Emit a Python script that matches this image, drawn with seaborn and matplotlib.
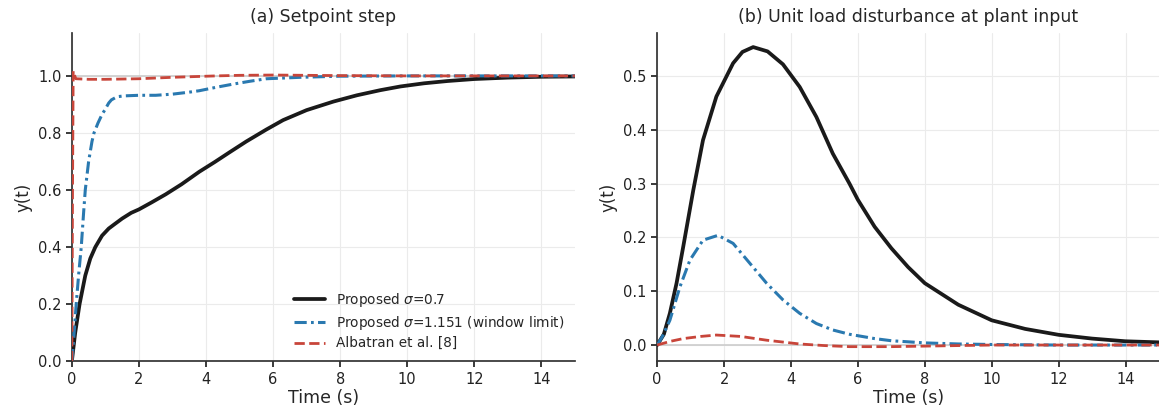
import matplotlib
matplotlib.use("Agg")
import matplotlib.pyplot as plt
import seaborn as sns
import numpy as np

# (a) setpoint step
t_a_prop07 = [0, 0.1, 0.23, 0.4, 0.55, 0.7, 0.9, 1.1, 1.27, 1.5, 1.77, 2.0, 2.37, 2.8, 3.27,
              3.8, 4.26, 4.7, 5.2, 5.8, 6.3, 7.0, 7.8, 8.5, 9.2, 9.8, 10.5, 11.2, 12, 13, 14, 15]
y_a_prop07 = [0, 0.1, 0.2, 0.3, 0.36, 0.4, 0.44, 0.465, 0.48, 0.5, 0.52, 0.532, 0.556, 0.585,
              0.62, 0.664, 0.698, 0.732, 0.77, 0.812, 0.845, 0.88, 0.91, 0.932, 0.95, 0.963,
              0.974, 0.982, 0.989, 0.994, 0.997, 0.998]

t_a_prop1151 = [0, 0.05, 0.13, 0.2, 0.28, 0.35, 0.4, 0.5, 0.6, 0.66, 0.78, 0.9, 0.98, 1.1,
                1.18, 1.35, 1.57, 2.0, 2.5, 3.0, 3.5, 3.8, 4.3, 4.8, 5.3, 5.8, 6.8, 8, 10, 12, 15]
y_a_prop1151 = [0, 0.07, 0.2, 0.3, 0.4, 0.52, 0.6, 0.7, 0.77, 0.8, 0.835, 0.865, 0.88, 0.905,
                0.916, 0.927, 0.93, 0.932, 0.932, 0.936, 0.943, 0.948, 0.96, 0.971, 0.981,
                0.99, 0.995, 0.999, 1.0, 1.0, 1.0]

t_a_albatran = [0, 0.02, 0.04, 0.07, 0.12, 0.5, 1, 2, 3, 4.3, 5, 6, 7, 8, 10, 12, 15]
y_a_albatran = [0, 0.6, 1.017, 1.005, 0.99, 0.988, 0.988, 0.99, 0.995, 1.0, 1.002, 1.003,
                1.002, 1.001, 1.0, 1.0, 1.0]

# (b) unit load disturbance at plant input
t_b_prop07 = [0, 0.2, 0.38, 0.58, 0.78, 1.08, 1.37, 1.77, 2.27, 2.55, 2.87, 3.3, 3.76, 4.26,
              4.76, 5.25, 5.75, 6.0, 6.5, 7, 7.5, 8, 9, 10, 11, 12, 13, 14, 15]
y_b_prop07 = [0, 0.02, 0.059, 0.115, 0.183, 0.288, 0.381, 0.462, 0.524, 0.545, 0.554, 0.546,
              0.522, 0.48, 0.424, 0.356, 0.3, 0.27, 0.22, 0.18, 0.145, 0.115, 0.075, 0.046,
              0.03, 0.019, 0.012, 0.007, 0.005]

t_b_prop1151 = [0, 0.15, 0.38, 0.68, 0.98, 1.37, 1.82, 2.27, 2.77, 3.27, 3.76, 4.26, 4.76,
                5.25, 5.75, 6.5, 7, 8, 9, 10, 12, 15]
y_b_prop1151 = [0, 0.015, 0.046, 0.108, 0.158, 0.195, 0.204, 0.189, 0.152, 0.115, 0.084,
                0.059, 0.04, 0.028, 0.02, 0.012, 0.008, 0.004, 0.002, 0.001, 0.0, 0.0]

t_b_albatran = [0, 0.4, 0.78, 1.3, 1.77, 2.5, 3.27, 4.26, 5, 5.75, 7, 8, 9, 10, 12, 15]
y_b_albatran = [0, 0.007, 0.012, 0.016, 0.0186, 0.016, 0.009, 0.002, -0.001, -0.003, -0.003,
                -0.002, -0.001, 0.0, 0.0, 0.0]

labels = [r"Proposed $\sigma$=0.7", r"Proposed $\sigma$=1.151 (window limit)", "Albatran et al. [8]"]
colors = ["#1a1a1a", "#2a79b0", "#c8453a"]
widths = [2.7, 2.2, 2.0]
dashes = [None, [4.0, 1.4, 0.9, 1.4], [3.7, 1.6]]

sns.set_theme(style="ticks")
plt.rcParams["font.family"] = ["DejaVu Sans"]

fig = plt.figure(figsize=(11.59, 4.19), dpi=100)
ax1 = fig.add_axes([0.062, 0.138, 0.434, 0.783])
ax2 = fig.add_axes([0.567, 0.138, 0.433, 0.783])

series_a = [(t_a_prop07, y_a_prop07), (t_a_prop1151, y_a_prop1151), (t_a_albatran, y_a_albatran)]
series_b = [(t_b_prop07, y_b_prop07), (t_b_prop1151, y_b_prop1151), (t_b_albatran, y_b_albatran)]

for ax, series, ref in [(ax1, series_a, 1.0), (ax2, series_b, 0.0)]:
    ax.axhline(ref, color="#cccccc", lw=1.2, zorder=1)
    for (t, y), lab, c, lw, d in zip(series, labels, colors, widths, dashes):
        sns.lineplot(x=t, y=y, ax=ax, color=c, lw=lw, label=lab,
                     sort=False, estimator=None, zorder=3)
        if d is not None:
            ax.lines[-1].set_dashes(d)
    ax.grid(True, color="#ebebeb", lw=0.8)
    ax.set_axisbelow(True)
    sns.despine(ax=ax)
    ax.spines["left"].set_color("#333333")
    ax.spines["bottom"].set_color("#333333")
    ax.set_xlim(0, 15)
    ax.set_xticks(np.arange(0, 15, 2))
    ax.tick_params(labelsize=10.5, colors="#222222", length=4)
    ax.set_xlabel("Time (s)", fontsize=12.5, labelpad=2)
    ax.set_ylabel("y(t)", fontsize=12)

ax1.set_ylim(0, 1.15)
ax1.set_yticks(np.arange(0, 1.01, 0.2))
ax1.set_title("(a) Setpoint step", fontsize=12.5, pad=8)
ax1.legend(loc="lower right", frameon=False, fontsize=9.8, handlelength=2.3,
           handletextpad=0.75, borderaxespad=0.4, labelspacing=0.35)

ax2.set_ylim(-0.03, 0.58)
ax2.set_yticks(np.arange(0, 0.51, 0.1))
ax2.set_title("(b) Unit load disturbance at plant input", fontsize=12.5, pad=8)
ax2.get_legend().remove()

fig.savefig("out.png", dpi=100)
